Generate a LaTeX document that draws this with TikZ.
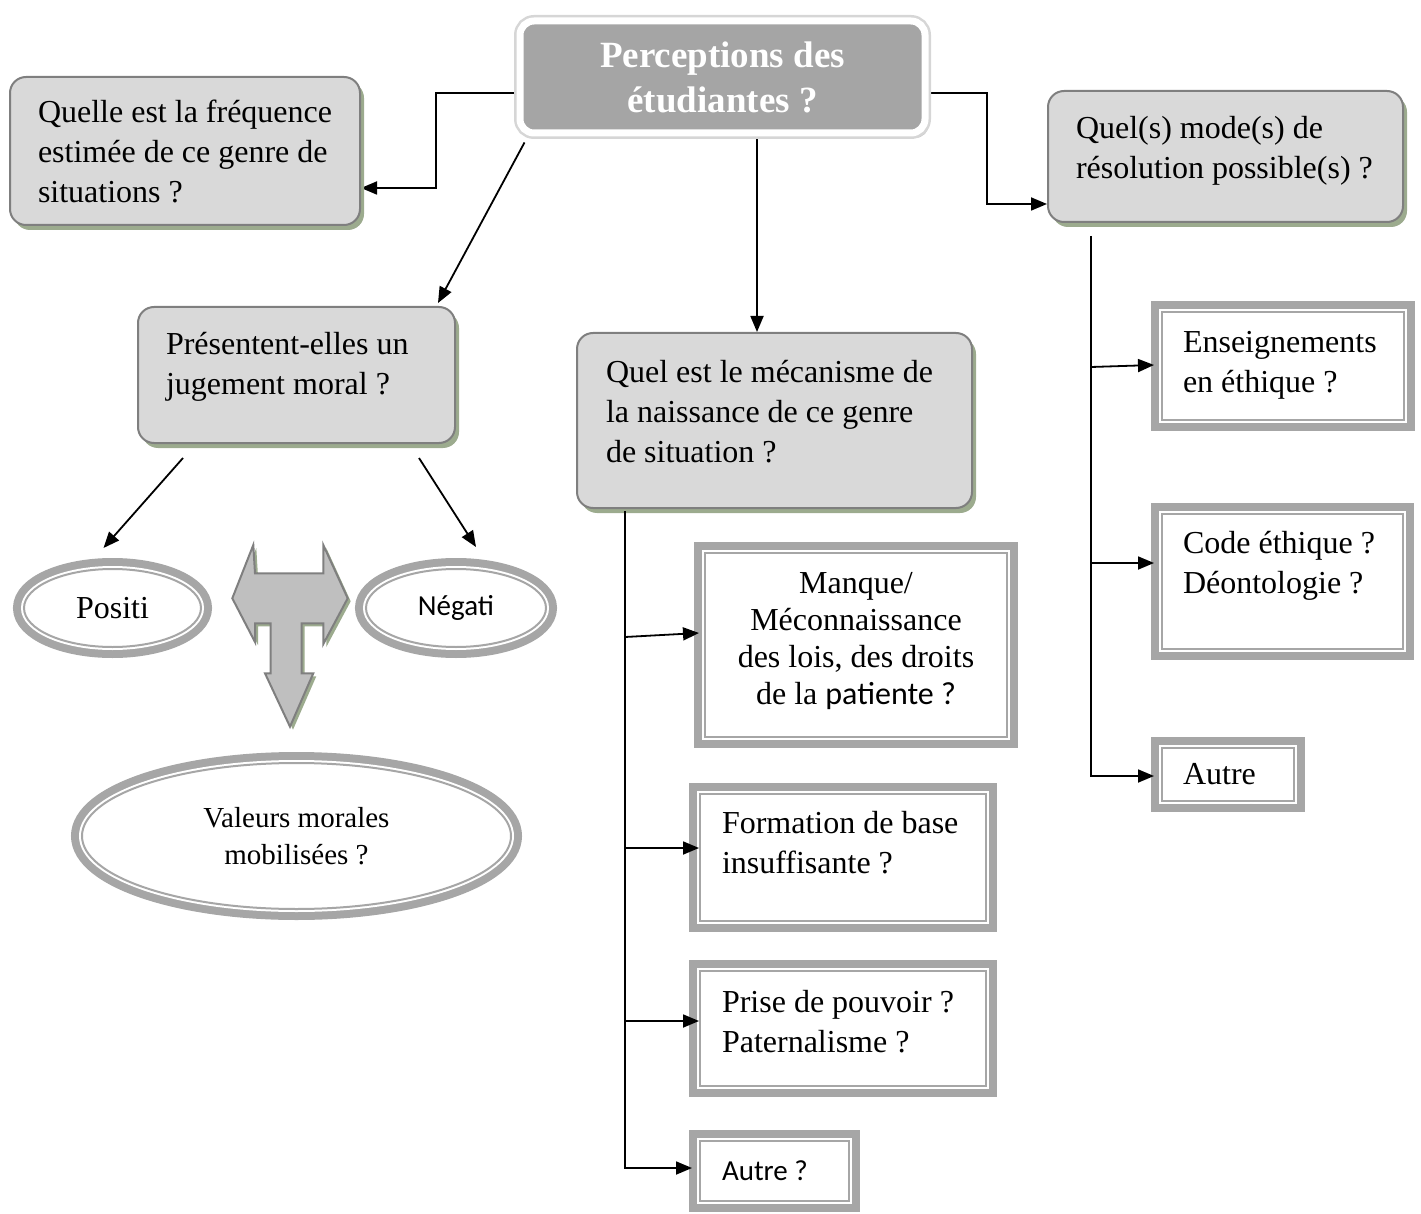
\documentclass[tikz,border=0pt]{standalone}
\usepackage{fontspec}
\setmainfont{Liberation Serif}
\newfontfamily\calibrifont{Carlito}
\usetikzlibrary{shapes.geometric,shadows,arrows.meta,calc}
\pgfdeclarelayer{background}
\pgfsetlayers{background,main}
\definecolor{boxfill}{HTML}{D9D9D9}
\definecolor{boxline}{HTML}{7F7F7F}
\definecolor{shadowg}{HTML}{9CAB8E}
\definecolor{dgray}{HTML}{A6A6A6}
\definecolor{topgray}{HTML}{A5A5A5}
\definecolor{toprim}{HTML}{D6D6D6}
\definecolor{topshadow}{HTML}{C4C4C4}
\definecolor{tfill}{HTML}{BFBFBF}
\tikzset{
  txt/.style={font=\fontsize{32}{40}\selectfont},
  rbox/.style={rectangle, draw=boxline, line width=2pt, fill=boxfill,
    rounded corners=16pt, inner sep=0pt,
    drop shadow={shadow xshift=4pt, shadow yshift=-5pt, fill=shadowg, opacity=1},
    txt, align=flush left},
  dframe/.style={inner sep=0pt, line join=miter,
    preaction={draw=dgray, line width=22pt},
    preaction={fill=white},
    preaction={draw=white, line width=6pt},
    draw=dgray, line width=2pt, txt},
  dbox/.style={rectangle, dframe, align=flush left},
  dell/.style={ellipse, dframe, align=center},
  conn/.style={draw=black, line width=1.8pt, -{Triangle[length=16pt,width=13pt]}},
}
\begin{document}
\begin{tikzpicture}[x=1pt,y=-1pt]
\useasboundingbox (0,0) rectangle (1421,1214);

% top box
\node[rectangle, rounded corners=14pt, inner sep=0pt,
  minimum width=405pt, minimum height=112pt,
  drop shadow={shadow xshift=4pt, shadow yshift=-5pt, fill=topshadow, opacity=1},
  preaction={draw=toprim, line width=12pt},
  fill=topgray, draw=white, line width=7pt,
  text=white, align=center, font=\bfseries\fontsize{37}{45}\selectfont]
  (top) at (722.5,77) {Perceptions des\\étudiantes ?};

% rounded question boxes
\node[rbox, minimum width=350pt, minimum height=148pt, text width=294pt]
  (freq) at (185,151) {\mbox{Quelle est la fréquence}\\\mbox{estimée de ce genre de}\\\mbox{situations ?}};
\node[rbox, minimum width=355pt, minimum height=131pt, text width=299pt]
  (mode) at (1225.5,156.5) {\mbox{Quel(s) mode(s) de}\\\mbox{résolution possible(s) ?}\rule[-18pt]{0pt}{0pt}};
\node[rbox, minimum width=317pt, minimum height=136pt, text width=261pt]
  (jug) at (296.5,375) {\mbox{Présentent-elles un}\\\mbox{jugement moral ?}\rule[-24pt]{0pt}{0pt}};
\node[rbox, minimum width=395pt, minimum height=175pt, text width=337pt]
  (mec) at (774.5,420.5) {\mbox{Quel est le mécanisme de}\\\mbox{la naissance de ce genre}\\\mbox{de situation ?}\rule[-18pt]{0pt}{0pt}};

% ellipses
\node[dell, minimum width=177pt, minimum height=78pt] (pos) at (112.5,608) {Positi};
\node[dell, minimum width=180pt, minimum height=78pt,
  font=\calibrifont\fontsize{29}{34}\selectfont] (neg) at (456,608) {Négati};
\node[dell, minimum width=429pt, minimum height=146pt,
  font=\fontsize{29}{37}\selectfont] (val) at (296.5,836) {Valeurs morales\\mobilisées ?};

% T-shaped arrow
\draw[fill=tfill, draw=boxline, line width=2pt, line join=miter,
  drop shadow={shadow xshift=3pt, shadow yshift=-3pt, fill=shadowg, opacity=1}]
  (232.3,598.3) -- (253.3,545) -- (255,573.3) -- (323.3,573.3) -- (323.3,545)
  -- (347.7,598.3) -- (323.3,644) -- (323.3,623.3) -- (301.7,623.3)
  -- (301.7,673.3) -- (313.3,673.3) -- (290,726.7) -- (265,673.3)
  -- (270.7,673.3) -- (270.7,623.3) -- (255,623.3) -- (255,642) -- cycle;

% middle column boxes
\node[rectangle, dframe, align=center, minimum width=302pt, minimum height=184pt,
  font=\fontsize{32}{37}\selectfont]
  (man) at (856,645) {Manque/\\Méconnaissance\\des lois, des droits\\de la {\calibrifont patiente ?}\rule[-13pt]{0pt}{0pt}};
\node[dbox, minimum width=286pt, minimum height=127pt, text width=242pt]
  (form) at (843,857.5) {\mbox{Formation de base}\\\mbox{insuffisante ?}\rule[-30pt]{0pt}{0pt}};
\node[dbox, minimum width=286pt, minimum height=115pt, text width=242pt]
  (prise) at (843,1028.5) {\mbox{Prise de pouvoir ?}\\\mbox{Paternalisme ?}\rule[-15pt]{0pt}{0pt}};
\node[dbox, minimum width=149pt, minimum height=60pt, text width=105pt,
  font=\calibrifont\fontsize{29}{34}\selectfont]
  (autreq) at (774.5,1171) {\mbox{Autre ?}};

% right column boxes
\node[dbox, minimum width=242pt, minimum height=108pt, text width=200pt]
  (ens) at (1283,366) {\mbox{Enseignements}\\\mbox{en éthique ?}\rule[-8pt]{0pt}{0pt}};
\node[dbox, minimum width=241pt, minimum height=135pt, text width=199pt]
  (code) at (1282.5,581.5) {\mbox{Code éthique ?}\\\mbox{Déontologie ?}\rule[-38pt]{0pt}{0pt}};
\node[dbox, minimum width=132pt, minimum height=53pt, text width=90pt]
  (autre) at (1228,774.5) {\mbox{Autre}};

% connectors
\begin{pgfonlayer}{background}
\draw[conn] ($(top.west)+(0,16)$) -| ($(freq.east)+(75,37)$) -- ($(freq.east)+(0,37)$);
\draw[conn] ($(top.east)+(0,16)$) -| ($(mode.west)+(-60,47.5)$) -- ($(mode.west)+(0,47.5)$);
\draw[conn] ($(top.south)+(34.5,0)$) coordinate (tb) -- (tb |- mec.north);
\draw[conn] ($(top.south west)+(8,6)$) -- ($(jug.north east)+(-18,-3)$);
\end{pgfonlayer}
\draw[conn] ($(jug.south west)+(46,14)$) -- ($(pos.north)+(-9,-20)$);
\draw[conn] ($(jug.south east)+(-37,14)$) -- ($(neg.north)+(20,-21)$);

\coordinate (mb) at ($(mec.south west)+(49,2)$);
\draw[conn] (mb) |- ($(autreq.west)+(-7,-3)$);
\draw[conn] ($(mb |- man.west)+(0,-8)$) -- ($(man.west)+(-5,-12)$);
\draw[conn] ($(mb |- form.west)+(0,-9.5)$) -- ($(form.west)+(0,-9.5)$);
\draw[conn] ($(mb |- prise.west)+(0,-7.5)$) -- ($(prise.west)+(0,-7.5)$);

\coordinate (rb) at ($(mode.south west)+(44,13)$);
\draw[conn] (rb) |- ($(autre.west)+(-7,1.5)$);
\draw[conn] ($(rb |- ens.west)+(0,1)$) -- ($(ens.west)+(-7,-1)$);
\draw[conn] ($(rb |- code.west)+(0,-18.5)$) -- ($(code.west)+(-7,-18.5)$);
\end{tikzpicture}
\end{document}
